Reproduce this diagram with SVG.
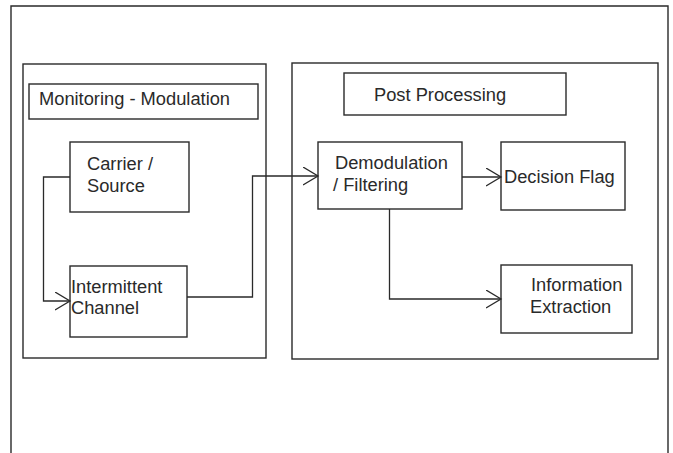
<svg xmlns="http://www.w3.org/2000/svg" width="673" height="453" viewBox="0 0 673 453">
<defs>
<style>
.box{fill:#fff;stroke:#2a2a2a;stroke-width:1.4}
.frame{fill:none;stroke:#2a2a2a;stroke-width:1.4}
.t{font-family:"Liberation Sans",Arial,sans-serif;font-size:18.3px;fill:#2a2a2a}
.c{fill:none;stroke:#2a2a2a;stroke-width:1.3}
</style>
<marker id="arr" markerWidth="18" markerHeight="20" refX="15" refY="9" orient="auto" markerUnits="userSpaceOnUse">
<path d="M0,0 L15,9 L0,18" fill="none" stroke="#2a2a2a" stroke-width="1.3"/>
</marker>
</defs>
<rect width="673" height="453" fill="#fff"/>
<path class="frame" d="M11,460 V6 H668 V460"/>
<g id="monitoring-container"><rect class="box" x="23" y="64" width="243" height="294"/></g>
<g id="post-container"><rect class="box" x="292" y="63" width="366" height="296"/></g>
<g id="monitoring-title"><rect class="box" x="29" y="84" width="229" height="35"/><text class="t" x="39" y="105">Monitoring - Modulation</text></g>
<g id="post-title"><rect class="box" x="344" y="73" width="222" height="42"/><text class="t" x="374" y="101">Post Processing</text></g>
<g id="carrier"><rect class="box" x="70" y="142" width="119" height="70"/><text class="t" x="87" y="170">Carrier /</text><text class="t" x="87" y="192">Source</text></g>
<g id="intermittent"><rect class="box" x="70" y="266" width="117" height="71"/><text class="t" x="71" y="293">Intermittent</text><text class="t" x="71" y="314">Channel</text></g>
<g id="demod"><rect class="box" x="318" y="142" width="144" height="67"/><text class="t" x="335" y="169">Demodulation</text><text class="t" x="333" y="191">/ Filtering</text></g>
<g id="decision"><rect class="box" x="501" y="142" width="124" height="68"/><text class="t" x="504" y="183">Decision Flag</text></g>
<g id="info"><rect class="box" x="501" y="265" width="131" height="68"/><text class="t" x="531" y="291">Information</text><text class="t" x="530" y="313">Extraction</text></g>
<g id="connectors">
<path class="c" d="M70,177 H43.5 V301 H70" marker-end="url(#arr)"/>
<path class="c" d="M187,297 H252.5 V176 H318" marker-end="url(#arr)"/>
<path class="c" d="M462,177 H501" marker-end="url(#arr)"/>
<path class="c" d="M389.5,209 V299 H501" marker-end="url(#arr)"/>
</g>
</svg>
